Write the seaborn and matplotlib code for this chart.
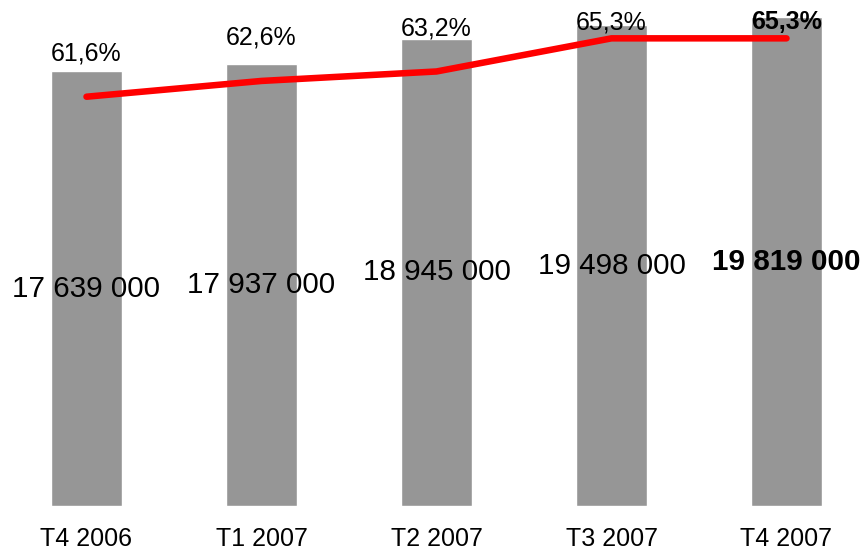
import matplotlib
matplotlib.use("Agg")
import matplotlib.pyplot as plt
import seaborn as sns
import pandas as pd

# Quarterly figures
quarters = ["T4 2006", "T1 2007", "T2 2007", "T3 2007", "T4 2007"]
totals = [17639000, 17937000, 18945000, 19498000, 19819000]
rates = [61.6, 62.6, 63.2, 65.3, 65.3]

sns.set_theme(style="white")
plt.rcParams["font.family"] = ["Liberation Sans", "DejaVu Sans"]

df = pd.DataFrame({"quarter": quarters, "total": totals, "rate": rates})

fig = plt.figure(figsize=(8.64, 5.52), dpi=100)
ax = fig.add_axes([0, 46 / 552, 1, 506 / 552])

sns.barplot(data=df, x="quarter", y="total", color="#969696", saturation=1,
            width=0.406, ax=ax)

ax.set_xlim(-86.5 / 175, (864 - 86.5) / 175)
ax.set_ylim(0, 20.52e6)
ax.set_xlabel("")
ax.set_ylabel("")
ax.set_yticks([])
ax.tick_params(axis="x", length=0, pad=15, labelsize=18, labelcolor="black")
for s in ax.spines.values():
    s.set_visible(False)


def fmt_total(v):
    return f"{v:,}".replace(",", " ")


def fmt_rate(v):
    return f"{v:.1f}".replace(".", ",") + "%"


# Totals written halfway up each bar, the latest one in bold
for i, v in enumerate(totals):
    ax.text(i, v / 2, fmt_total(v), ha="center", va="center", fontsize=21.3,
            color="black", fontweight="bold" if i == len(totals) - 1 else "normal")

# Rate line on its own scale
ax2 = ax.twinx()
sns.lineplot(x=list(range(len(rates))), y=rates, color="#ff0000", linewidth=4.7,
             ax=ax2, solid_capstyle="round", sort=False)
ax2.set_ylim(35.66, 67.73)
ax2.set_xlim(ax.get_xlim())
ax2.set_yticks([])
ax2.set_ylabel("")
for s in ax2.spines.values():
    s.set_visible(False)

# Rate labels sit above the line, kept inside the top of the plot
fig.canvas.draw()
inv = ax2.transData.inverted()
for i, v in enumerate(rates):
    px, py = ax2.transData.transform((i, v))
    py_label = min(py + 43, 552 - 22.5)
    _, y_label = inv.transform((px, py_label))
    ax2.text(i, y_label, fmt_rate(v), ha="center", va="center", fontsize=18,
             color="black", fontweight="bold" if i == len(rates) - 1 else "normal")

fig.savefig("out.png", dpi=100)
